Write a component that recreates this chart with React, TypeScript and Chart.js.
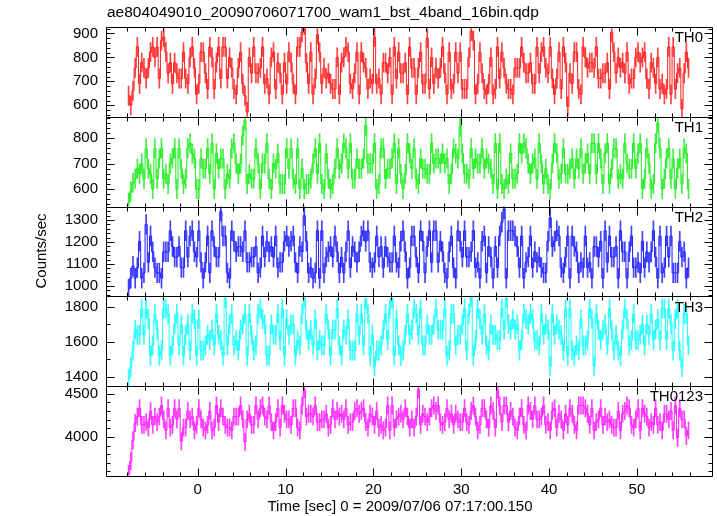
import React, { useEffect, useRef } from 'react';
import { Chart, registerables } from 'chart.js';

Chart.register(...registerables);

const TITLE = 'ae804049010_20090706071700_wam1_bst_4band_16bin.qdp';
const X_TITLE = 'Time [sec] 0 = 2009/07/06 07:17:00.150';
const Y_TITLE = 'Counts/sec';
const PANEL_NAMES = ['TH0', 'TH1', 'TH2', 'TH3', 'TH0123'];
const LINE_COLORS = ['#ff2020', '#20ee20', '#2020ff', '#20ffff', '#ff20ff'];
const BAR_COLORS = ['rgba(255,32,32,0.85)', 'rgba(32,238,32,0.85)', 'rgba(32,32,255,0.85)', 'rgba(32,255,255,0.9)', 'rgba(255,32,255,0.85)'];

const T_START = -7.875;
const BIN = 0.25;

const TH0 = [
  640, 600, 660, 756, 844, 690, 778, 756, 712, 756, 822, 844, 800, 844, 712, 870,
  885, 822, 734, 778, 690, 778, 734, 712, 712, 822, 712, 690, 800, 844, 756, 646,
  690, 822, 822, 734, 668, 844, 800, 668, 778, 844, 712, 844, 844, 712, 800, 756,
  668, 646, 756, 822, 690, 640, 572, 800, 734, 844, 734, 734, 756, 844, 690, 712,
  646, 800, 822, 668, 778, 734, 646, 778, 690, 822, 778, 690, 646, 844, 844, 905,
  935, 778, 690, 822, 646, 712, 895, 822, 690, 756, 712, 734, 690, 668, 668, 800,
  646, 778, 800, 844, 822, 690, 668, 734, 822, 646, 822, 778, 756, 668, 712, 690,
  885, 690, 712, 646, 778, 778, 734, 800, 646, 844, 712, 822, 734, 734, 778, 646,
  844, 756, 756, 646, 756, 822, 690, 690, 880, 668, 800, 690, 756, 712, 756, 844,
  734, 646, 822, 668, 690, 822, 734, 822, 668, 668, 668, 800, 910, 870, 646, 690,
  822, 734, 668, 646, 690, 800, 646, 668, 844, 712, 822, 756, 690, 668, 668, 646,
  756, 756, 756, 844, 778, 734, 734, 778, 690, 690, 844, 734, 822, 844, 756, 734,
  844, 712, 646, 712, 822, 668, 844, 778, 595, 734, 690, 822, 822, 668, 646, 844,
  800, 756, 778, 778, 756, 844, 712, 712, 734, 734, 778, 668, 905, 822, 734, 800,
  756, 778, 734, 822, 690, 712, 712, 800, 822, 778, 800, 822, 712, 668, 778, 756,
  690, 800, 668, 690, 646, 668, 844, 646, 844, 668, 734, 756, 585, 734, 822, 756,
];

const TH1 = [
  546, 590, 625, 640, 680, 660, 700, 640, 760, 680, 660, 600, 760, 640, 720, 760,
  640, 660, 620, 700, 720, 760, 600, 760, 680, 620, 640, 760, 780, 740, 720, 600,
  600, 720, 680, 680, 760, 660, 780, 600, 740, 680, 720, 720, 600, 660, 640, 760,
  780, 700, 660, 700, 810, 870, 620, 660, 640, 640, 760, 700, 600, 700, 700, 780,
  640, 600, 700, 680, 740, 620, 620, 620, 760, 680, 760, 640, 620, 760, 600, 680,
  600, 620, 620, 640, 700, 760, 660, 780, 620, 600, 740, 640, 600, 620, 680, 760,
  680, 700, 780, 760, 680, 780, 640, 640, 720, 680, 680, 720, 850, 700, 700, 700,
  780, 600, 620, 760, 760, 640, 680, 680, 720, 780, 620, 760, 660, 600, 660, 780,
  740, 680, 760, 640, 620, 720, 680, 680, 660, 660, 780, 700, 720, 720, 700, 740,
  700, 720, 620, 660, 760, 740, 720, 845, 740, 660, 660, 640, 760, 680, 720, 700,
  700, 760, 680, 720, 700, 680, 620, 780, 600, 780, 620, 600, 640, 620, 740, 640,
  640, 660, 780, 740, 780, 760, 700, 660, 700, 720, 640, 780, 700, 620, 680, 620,
  600, 700, 780, 740, 640, 660, 760, 660, 660, 680, 720, 640, 720, 680, 760, 660,
  700, 740, 660, 780, 780, 660, 780, 720, 620, 740, 780, 620, 680, 760, 760, 640,
  660, 640, 780, 700, 680, 680, 780, 680, 740, 780, 600, 640, 760, 700, 600, 620,
  780, 860, 760, 600, 640, 720, 760, 640, 720, 600, 680, 720, 620, 760, 740, 600,
];

const TH2 = [
  985, 1035, 1090, 1035, 1083, 1203, 1035, 1059, 1280, 1107, 1227, 1155, 1083, 1059, 1059, 1035,
  1155, 1155, 1155, 1251, 1179, 1131, 1131, 1179, 1083, 1083, 1251, 1131, 1227, 1251, 1155, 1131,
  1251, 1107, 1035, 1107, 1227, 1059, 1251, 1179, 1131, 1131, 1340, 1227, 1227, 1059, 1035, 1251,
  1203, 1155, 1179, 1179, 1155, 1251, 1107, 1107, 1131, 1131, 1179, 1059, 1083, 1227, 1131, 1203,
  1155, 1179, 1131, 1227, 1083, 1107, 1107, 1203, 1227, 1179, 1203, 1227, 1107, 1059, 1179, 1155,
  1320, 1203, 1059, 1083, 1035, 1059, 1251, 1035, 1251, 1059, 1131, 1155, 1179, 1131, 1227, 1155,
  1059, 1131, 1059, 1155, 1251, 1083, 1179, 1155, 1107, 1155, 1227, 1251, 1203, 1251, 1107, 1083,
  1107, 1227, 1131, 1179, 1083, 1179, 1131, 1107, 1107, 1227, 1107, 1083, 1203, 1251, 1155, 1035,
  1083, 1227, 1227, 1131, 1059, 1251, 1203, 1059, 1179, 1251, 1107, 1251, 1251, 1107, 1203, 1155,
  1059, 1035, 1155, 1227, 1083, 1035, 1251, 1203, 1131, 1251, 1131, 1131, 1155, 1251, 1083, 1107,
  1035, 1203, 1227, 1059, 1179, 1131, 1035, 1179, 1083, 1227, 1290, 1350, 1035, 1251, 1251, 1251,
  1227, 1179, 1083, 1227, 1035, 1107, 1131, 1227, 1083, 1155, 1107, 1131, 1083, 1059, 1059, 1203,
  1310, 1179, 1203, 1251, 1227, 1083, 1059, 1131, 1227, 1035, 1227, 1179, 1155, 1059, 1107, 1083,
  1227, 1083, 1107, 1035, 1179, 1179, 1131, 1203, 1035, 1251, 1107, 1227, 1131, 1131, 1179, 1035,
  1251, 1155, 1155, 1035, 1155, 1227, 1083, 1083, 1107, 1059, 1203, 1083, 1155, 1107, 1155, 1251,
  1131, 1035, 1227, 1059, 1083, 1227, 1131, 1227, 1059, 1059, 1059, 1203, 1131, 1155, 1035, 1083,
];

const TH3 = [
  1385, 1455, 1550, 1670, 1640, 1640, 1790, 1640, 1790, 1730, 1520, 1580, 1760, 1670, 1520, 1550,
  1790, 1790, 1760, 1520, 1580, 1700, 1760, 1580, 1700, 1520, 1640, 1700, 1550, 1760, 1730, 1520,
  1730, 1550, 1550, 1580, 1640, 1610, 1670, 1580, 1760, 1640, 1610, 1520, 1850, 1580, 1700, 1760,
  1580, 1610, 1550, 1670, 1700, 1760, 1520, 1760, 1640, 1550, 1580, 1760, 1790, 1730, 1700, 1520,
  1520, 1700, 1640, 1640, 1760, 1610, 1790, 1520, 1730, 1640, 1700, 1700, 1520, 1610, 1580, 1760,
  1855, 1670, 1610, 1670, 1580, 1730, 1550, 1610, 1580, 1580, 1760, 1670, 1520, 1670, 1670, 1790,
  1580, 1520, 1670, 1640, 1730, 1550, 1550, 1550, 1760, 1640, 1760, 1580, 1845, 1760, 1520, 1640,
  1460, 1550, 1550, 1580, 1670, 1760, 1610, 1790, 1850, 1520, 1730, 1580, 1520, 1550, 1640, 1760,
  1640, 1670, 1790, 1760, 1640, 1790, 1580, 1580, 1700, 1640, 1640, 1700, 1790, 1670, 1670, 1670,
  1790, 1520, 1550, 1760, 1760, 1580, 1640, 1640, 1700, 1790, 1550, 1760, 1855, 1520, 1610, 1790,
  1730, 1640, 1760, 1580, 1550, 1700, 1640, 1640, 1610, 1610, 1790, 1670, 1850, 1700, 1670, 1730,
  1670, 1700, 1550, 1610, 1760, 1730, 1700, 1760, 1730, 1610, 1610, 1580, 1760, 1640, 1700, 1670,
  1460, 1760, 1640, 1700, 1670, 1640, 1550, 1790, 1520, 1790, 1550, 1520, 1580, 1550, 1730, 1580,
  1580, 1610, 1790, 1730, 1460, 1760, 1670, 1610, 1670, 1700, 1580, 1790, 1670, 1550, 1640, 1550,
  1520, 1670, 1790, 1730, 1580, 1610, 1760, 1610, 1610, 1640, 1700, 1580, 1700, 1640, 1760, 1610,
  1670, 1730, 1610, 1790, 1790, 1610, 1790, 1700, 1550, 1730, 1790, 1550, 1455, 1760, 1760, 1580,
];

const TH0123 = [
  3570, 3720, 3960, 4160, 4235, 4331, 4139, 4139, 4171, 4107, 4299, 4139, 4235, 4171, 4235, 4363,
  4203, 4075, 4331, 4107, 4139, 4331, 4203, 4331, 3950, 4107, 4107, 4299, 4203, 4235, 4075, 4139,
  4331, 4203, 4107, 4075, 4139, 4299, 4075, 4107, 4363, 4171, 4331, 4235, 4139, 4107, 4107, 4075,
  4235, 4235, 4235, 4363, 4203, 3940, 4203, 4267, 4139, 4139, 4363, 4203, 4331, 4363, 4235, 4203,
  4363, 4171, 4075, 4171, 4331, 4107, 4363, 4267, 4203, 4203, 4139, 4331, 4331, 4107, 4075, 4363,
  4550, 4235, 4267, 4267, 4235, 4363, 4171, 4171, 4203, 4203, 4267, 4107, 4139, 4331, 4203, 4299,
  4235, 4267, 4203, 4331, 4139, 4171, 4171, 4299, 4331, 4267, 4299, 4331, 4171, 4107, 4267, 4235,
  4139, 4299, 4107, 4139, 4075, 4107, 4363, 4075, 4363, 4107, 4203, 4235, 4267, 4203, 4331, 4235,
  4107, 4203, 4107, 4235, 4550, 4139, 4267, 4235, 4171, 4235, 4331, 4363, 4299, 4363, 4171, 4139,
  4171, 4331, 4203, 4267, 4139, 4267, 4203, 4171, 4171, 4331, 4171, 4139, 4299, 4363, 4235, 4075,
  4139, 4331, 4331, 4203, 4107, 4363, 4299, 4107, 4545, 4363, 4171, 4363, 4363, 4171, 4299, 4235,
  4107, 4075, 4235, 4331, 4139, 4075, 4363, 4299, 4203, 4363, 4203, 4203, 4235, 4363, 4139, 4171,
  4075, 4299, 4331, 4107, 4267, 4203, 4075, 4267, 4139, 4331, 4267, 4139, 4075, 4363, 4363, 4363,
  4331, 4267, 4139, 4331, 4075, 4171, 4203, 4331, 4139, 4235, 4171, 4203, 4139, 4107, 4107, 4299,
  4075, 4267, 4299, 4363, 4331, 4139, 4107, 4203, 4331, 4075, 4331, 4267, 4235, 4107, 4171, 4139,
  4331, 4139, 4171, 4075, 4267, 4267, 4203, 4299, 4075, 4363, 3990, 4331, 4203, 4203, 4010, 4075,
];

const SERIES = [TH0, TH1, TH2, TH3, TH0123];
const ERRORS = [40, 38, 45, 55, 100];

const Y_MIN = [552, 531, 952, 1346, 3547];
const Y_MAX = [927, 884, 1361, 1860, 4587];
const Y_LABELS = [
  [600, 700, 800, 900],
  [600, 700, 800],
  [1000, 1100, 1200, 1300],
  [1400, 1600, 1800],
  [4000, 4500],
];
const Y_MINOR_STEP = [20, 20, 20, 100, 100];

const X_MIN = -9.4;
const X_MAX = 57.5;
const X_LABELS = [0, 10, 20, 30, 40, 50];
const X_MINOR_STEP = 2;

function stepTicks(min: number, max: number, step: number) {
  const out: number[] = [];
  for (let v = Math.ceil(min / step) * step; v <= max; v += step) out.push(v);
  return out;
}

const FONT = "'Liberation Sans', Arial, Helvetica, sans-serif";

const framePlugin = {
  id: 'qdpFrames',
  afterDraw(chart: any) {
    const ctx = chart.ctx;
    const area = chart.chartArea;
    const xs = chart.scales.x;
    const L = Math.round(area.left) + 0.5;
    const R = Math.round(area.right) + 0.5;
    ctx.save();
    ctx.strokeStyle = '#000';
    ctx.lineWidth = 1;
    for (let i = 0; i < 5; i++) {
      const s = chart.scales['y' + i];
      const T = Math.round(s.top) + 0.5;
      const B = Math.round(s.bottom) + 0.5;
      ctx.beginPath();
      ctx.rect(L, T, R - L, B - T);
      ctx.stroke();
      ctx.beginPath();
      for (const t of s.ticks) {
        const py = Math.round(s.getPixelForValue(t.value)) + 0.5;
        const len = Y_LABELS[i].includes(t.value) ? 8 : 4;
        ctx.moveTo(L, py); ctx.lineTo(L + len, py);
        ctx.moveTo(R, py); ctx.lineTo(R - len, py);
      }
      for (const t of xs.ticks) {
        const px = Math.round(xs.getPixelForValue(t.value)) + 0.5;
        const len = X_LABELS.includes(t.value) ? 8 : 4;
        ctx.moveTo(px, T); ctx.lineTo(px, T + len);
        ctx.moveTo(px, B); ctx.lineTo(px, B - len);
      }
      ctx.stroke();
      ctx.fillStyle = '#000';
      ctx.font = `15px ${FONT}`;
      ctx.textAlign = 'right';
      ctx.textBaseline = 'middle';
      ctx.fillText(PANEL_NAMES[i], 703, s.top + 11);
    }
    ctx.fillStyle = '#000';
    ctx.font = `15.5px ${FONT}`;
    ctx.textAlign = 'left';
    ctx.textBaseline = 'middle';
    ctx.fillText(TITLE, 107, 13);
    ctx.font = `15px ${FONT}`;
    ctx.textAlign = 'center';
    ctx.fillText(X_TITLE, 400, 507);
    ctx.translate(42, 251);
    ctx.rotate(-Math.PI / 2);
    ctx.fillText(Y_TITLE, 0, 0);
    ctx.restore();
  },
};

export default function App() {
  const ref = useRef<HTMLCanvasElement>(null);
  useEffect(() => {
    if (!ref.current) return;
    const datasets: any[] = [];
    SERIES.forEach((vals, i) => {
      datasets.push({
        type: 'line',
        data: vals.map((v, j) => ({ x: T_START + j * BIN, y: v })),
        yAxisID: 'y' + i,
        xAxisID: 'x',
        borderColor: LINE_COLORS[i],
        borderWidth: 1,
        pointRadius: 0,
        stepped: 'middle',
        fill: false,
      });
      datasets.push({
        type: 'bar',
        data: vals.map((v, j) => ({ x: T_START + j * BIN, y: [v - ERRORS[i], v + ERRORS[i]] })),
        yAxisID: 'y' + i,
        xAxisID: 'x',
        backgroundColor: BAR_COLORS[i],
        barThickness: 1,
        grouped: false,
      });
    });
    const scales: any = {
      x: {
        type: 'linear',
        position: 'bottom',
        min: X_MIN,
        max: X_MAX,
        bounds: 'data',
        afterBuildTicks: (s: any) => {
          s.ticks = stepTicks(X_MIN, X_MAX, X_MINOR_STEP).map((v) => ({ value: v }));
        },
        ticks: {
          autoSkip: false,
          maxRotation: 0,
          padding: 5,
          color: '#000',
          font: { size: 15, family: FONT },
          callback: (v: number) => (X_LABELS.includes(v) ? String(v) : ''),
        },
        grid: { display: false, drawTicks: false },
        border: { display: false },
        afterFit: (s: any) => { s.height = 40; },
      },
    };
    for (let i = 0; i < 5; i++) {
      scales['y' + i] = {
        type: 'linear',
        position: 'left',
        stack: 'panels',
        stackWeight: 1,
        weight: 5 - i,
        min: Y_MIN[i],
        max: Y_MAX[i],
        bounds: 'data',
        afterBuildTicks: (s: any) => {
          s.ticks = stepTicks(Y_MIN[i], Y_MAX[i], Y_MINOR_STEP[i]).map((v) => ({ value: v }));
        },
        ticks: {
          autoSkip: false,
          padding: 8,
          color: '#000',
          font: { size: 15, family: FONT },
          callback: (v: number) => (Y_LABELS[i].includes(v) ? String(v) : ''),
        },
        grid: { display: false, drawTicks: false },
        border: { display: false },
        afterFit: (s: any) => { s.width = 106; },
      };
    }
    const chart = new Chart(ref.current, {
      type: 'line',
      data: { datasets },
      options: {
        responsive: false,
        animation: false,
        devicePixelRatio: 1,
        layout: { padding: { left: 0, right: 5, top: 27, bottom: 0 } },
        plugins: { legend: { display: false }, tooltip: { enabled: false }, title: { display: false } },
        scales,
      } as any,
      plugins: [framePlugin],
    });
    return () => chart.destroy();
  }, []);
  return (
    <div style={{ position: 'absolute', left: 0, top: 0, width: 717, height: 516, background: '#fff' }}>
      <canvas ref={ref} width={717} height={516} />
    </div>
  );
}
